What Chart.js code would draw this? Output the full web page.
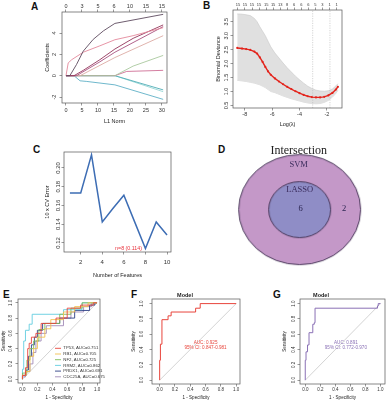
<!DOCTYPE html>
<html><head><meta charset="utf-8">
<script src="https://cdn.jsdelivr.net/npm/chart.js@4.4.1/dist/chart.umd.min.js"></script>
<style>
html,body{margin:0;padding:0;background:#fff}
body{width:387px;height:401px;overflow:hidden;position:relative}
canvas{position:absolute}
.lab{position:absolute;font:bold 10px/10px "Liberation Sans",Arial,sans-serif;color:#111}
</style></head><body>
<div class="lab" style="left:31px;top:2px">A</div>
<div class="lab" style="left:203px;top:1px">B</div>
<div class="lab" style="left:33px;top:145px">C</div>
<div class="lab" style="left:218px;top:145px">D</div>
<div class="lab" style="left:3px;top:290px">E</div>
<div class="lab" style="left:131px;top:290px">F</div>
<div class="lab" style="left:273px;top:290px">G</div>
<canvas id="cA" width="145" height="128" style="left:30px;top:0px"></canvas>
<canvas id="cB" width="155" height="130" style="left:195px;top:0px"></canvas>
<canvas id="cC" width="155" height="140" style="left:25px;top:140px"></canvas>
<canvas id="cD" width="187" height="140" style="left:200px;top:135px"></canvas>
<canvas id="cE" width="108" height="116" style="left:0px;top:285px"></canvas>
<canvas id="cF" width="118" height="116" style="left:130px;top:285px"></canvas>
<canvas id="cG" width="130" height="116" style="left:257px;top:285px"></canvas>
<script>
// ================= DATA =================
// Panel A: LASSO coefficient paths
const aL1Ticks = [0, 5, 10, 15, 20, 25, 30];
const aDfLabels = ["0", "3", "5", "6", "10", "15", "15"];
const aCoefTicks = [-2, 0, 2, 4];
const pathGene1 = [[0,0],[1.2,0],[3.3,1.05],[5.4,2.3],[8.5,3.4],[11.7,4.2],[15.3,4.9],[30.4,5.75]];
const pathGene2 = [[0,0],[0.7,1.2],[1.8,1.5],[5.4,2.2],[10.6,2.8],[15.3,3.37],[21,3.75],[30.4,4.5]];
const pathGene3 = [[0,0],[2.5,0],[5.4,0.5],[10.6,1.5],[15.3,2.5],[21,3.5],[30.4,4.76]];
const pathGene4 = [[0,0],[3.3,0],[10.6,1.3],[15.3,2.2],[30.4,4.6]];
const pathGene5 = [[0,0],[4.4,0],[15.3,1.7],[30.4,3.75]];
const pathGene6 = [[0,0],[15.3,0],[21,0.9],[30.4,1.9]];
const pathGene7 = [[0,0],[15.3,0],[19,0.4],[30.4,0.5]];
const pathGene8 = [[0,0],[15.3,0],[30.4,-1.33]];
const pathGene9 = [[0,0],[15.3,0],[30.4,-1.5]];
const pathGene10 = [[0,0],[2.5,0],[4.4,-0.48],[6.5,-0.54],[15.3,-0.86],[30.4,-2.22]];

// Panel B: cross-validation deviance
const bLogLambda = [-8.55,-8.2,-7.9,-7.6,-7.3,-7.1,-6.9,-6.7,-6.5,-6.3,-6.1,-5.8,-5.5,-5.2,-4.9,-4.6,-4.3,-4.0,-3.7,-3.4,-3.1,-2.8,-2.5,-2.2,-1.9,-1.6,-1.35,-1.2];
const bMeanDev  = [2.56,2.54,2.52,2.49,2.43,2.36,2.22,2.06,1.88,1.72,1.60,1.47,1.36,1.26,1.17,1.09,1.01,0.94,0.88,0.83,0.80,0.79,0.79,0.81,0.86,0.95,1.07,1.17];
const bUpperDev = [3.78,3.77,3.75,3.72,3.62,3.50,3.32,3.16,3.00,2.80,2.60,2.38,2.20,2.02,1.85,1.70,1.55,1.42,1.30,1.19,1.11,1.05,1.02,1.01,1.03,1.09,1.20,1.28];
const bLowerDev = [1.40,1.38,1.36,1.33,1.30,1.27,1.24,1.19,1.14,1.07,1.00,0.96,0.90,0.84,0.79,0.74,0.70,0.66,0.62,0.59,0.57,0.56,0.57,0.61,0.68,0.80,0.93,1.04];
const bLambdaMarks = [-3.04, -1.78];
const bXTicks = [-8, -6, -4, -2];
const bYTicks = [0.5, 1.0, 1.5, 2.0, 2.5, 3.0, 3.5];
const bTopPos = [-8.5,-7.99,-7.47,-6.96,-6.44,-5.93,-5.41,-4.9,-4.39,-3.87,-3.36,-2.84,-2.33,-1.81,-1.3];
const bTopLabels = ["15","15","15","15","15","15","13","8","6","6","6","5","3","1","1"];

// Panel C: SVM-RFE CV error
const cFeatures = [1,2,3,4,5,6,7,8,9,10];
const cCvError = [0.1733,0.1733,0.2139,0.1424,0.157,0.171,0.1425,0.114,0.1424,0.1285];
const cXTicks = [2,4,6,8,10];
const cYTicks = [0.12,0.14,0.16,0.18,0.20];
const cBestLabel = "n=8 (0.114)";

// Panel D: Venn
const dTitle = "Intersection";
const dSets = ["SVM", "LASSO"];
const dCounts = [2, 6]; // SVM only, shared

// Panel E: single-gene ROC
const eGenes = ["TP53","RB1","NF2","RRM2","PRDX1","CDC25A"];
const eAucs = ["0.751","0.705","0.725","0.862","0.691","0.675"];
const rocTP53 = [[0,0],[0,0.05],[0.04,0.05],[0.04,0.15],[0.07,0.15],[0.07,0.4],[0.09,0.4],[0.09,0.47],[0.12,0.47],[0.12,0.55],[0.18,0.55],[0.18,0.6],[0.25,0.6],[0.25,0.73],[0.45,0.73],[0.45,0.8],[0.6,0.8],[0.6,0.93],[0.78,0.93],[0.78,0.97],[0.95,0.97],[0.95,1],[1,1]];
const rocRB1 = [[0,0],[0,0.05],[0.05,0.05],[0.05,0.1],[0.1,0.1],[0.1,0.3],[0.15,0.3],[0.15,0.4],[0.2,0.4],[0.2,0.55],[0.3,0.55],[0.3,0.66],[0.38,0.66],[0.38,0.78],[0.55,0.78],[0.55,0.88],[0.7,0.88],[0.7,0.95],[0.88,0.95],[0.88,1],[1,1]];
const rocNF2 = [[0,0],[0,0.08],[0.06,0.08],[0.06,0.25],[0.1,0.25],[0.1,0.4],[0.15,0.4],[0.15,0.5],[0.22,0.5],[0.22,0.65],[0.3,0.65],[0.3,0.73],[0.5,0.73],[0.5,0.85],[0.65,0.85],[0.65,0.93],[0.8,0.93],[0.8,1],[1,1]];
const rocRRM2 = [[0,0],[0,0.13],[0.01,0.13],[0.01,0.35],[0.02,0.35],[0.02,0.5],[0.04,0.5],[0.04,0.64],[0.09,0.64],[0.09,0.72],[0.13,0.72],[0.13,0.85],[0.55,0.85],[0.55,0.91],[0.8,0.91],[0.8,1],[1,1]];
const rocPRDX1 = [[0,0],[0,0.05],[0.05,0.05],[0.05,0.12],[0.08,0.12],[0.08,0.3],[0.12,0.3],[0.12,0.45],[0.16,0.45],[0.16,0.55],[0.2,0.55],[0.2,0.64],[0.27,0.64],[0.27,0.73],[0.5,0.73],[0.5,0.8],[0.7,0.8],[0.7,0.9],[0.9,0.9],[0.9,0.97],[0.97,0.97],[0.97,1],[1,1]];
const rocCDC25A = [[0,0],[0,0.03],[0.04,0.03],[0.04,0.1],[0.1,0.1],[0.1,0.2],[0.14,0.2],[0.14,0.35],[0.18,0.35],[0.18,0.5],[0.25,0.5],[0.25,0.6],[0.32,0.6],[0.32,0.7],[0.55,0.7],[0.55,0.8],[0.65,0.8],[0.65,0.88],[0.82,0.88],[0.82,0.95],[0.93,0.95],[0.93,1],[1,1]];
const chanceLine = [[0,0],[1,1]];
const rocTicks = [0,0.2,0.4,0.6,0.8,1.0];

// Panels F, G: model ROC
const rocModelF = [[0,0],[0,0.26],[0.01,0.26],[0.01,0.47],[0.03,0.47],[0.03,0.79],[0.11,0.79],[0.11,0.84],[0.15,0.84],[0.15,0.89],[0.47,0.89],[0.47,0.94],[0.53,0.94],[0.53,1],[1,1]];
const aucF = "0.925", ciF = "0.847-0.981";
const rocModelG = [[0,0],[0,0.26],[0.01,0.26],[0.01,0.37],[0.03,0.37],[0.03,0.46],[0.05,0.46],[0.05,0.62],[0.1,0.62],[0.1,0.73],[0.12,0.73],[0.12,0.75],[0.13,0.75],[0.13,0.94],[0.96,0.94],[0.96,0.97],[0.97,0.97],[0.97,1],[1,1]];
const aucG = "0.891", ciG = "0.772-0.970";

// ================= STYLE / HELPERS =================
const FONT = '"Liberation Sans", Arial, sans-serif';
Chart.defaults.font.family = FONT;
Chart.defaults.color = '#333';

function lineDS(points, color, w, extra){
  return Object.assign({data: points.map(p=>({x:p[0], y:p[1]})), showLine:true, borderColor:color,
    backgroundColor:color, borderWidth:w, pointRadius:0, tension:0, fill:false}, extra||{});
}
function axis(o){
  const isX = o.axis === 'x';
  return {
    type:'linear', axis:o.axis, position:o.position, min:o.min, max:o.max,
    afterBuildTicks: s => { s.ticks = o.ticks.map(v=>({value:v})); },
    afterFit: s => { if(isX){ s.height=o.size; s.paddingLeft=0; s.paddingRight=0; } else { s.width=o.size; s.paddingTop=0; s.paddingBottom=0; } },
    grid:{display:true, drawOnChartArea:false, drawTicks:true, tickLength:2.5, tickWidth:0.6, color:'#555', lineWidth:0.6},
    border:{display:false},
    ticks:{font:{size:o.fs||5.5}, color:'#333', padding:o.pad, autoSkip:false,
      minRotation:isX?0:90, maxRotation:isX?0:90, crossAlign:isX?'near':'center',
      callback:(v,i)=> o.labels ? o.labels[i] : o.fmt(v)},
    title: o.title ? {display:true, text:o.title, font:{size:o.tfs||5.5}, color:'#222',
      padding: isX ? {top:0,bottom:o.tpad} : {top:o.tpad,bottom:0}} : {display:false}
  };
}
function opts(padding, scales, extraPlugins){
  return {responsive:false, animation:false, devicePixelRatio:1, events:[],
    layout:{padding}, scales,
    plugins:Object.assign({legend:{display:false}, tooltip:{enabled:false}}, extraPlugins||{})};
}
const boxPlugin = {id:'rbox', afterDatasetsDraw(chart){
  const a=chart.chartArea, c=chart.ctx; c.save(); c.strokeStyle='#555'; c.lineWidth=0.7;
  c.strokeRect(a.left, a.top, a.right-a.left, a.bottom-a.top); c.restore(); }};
function textPlugin(items){ return {id:'txt', afterDatasetsDraw(chart){
  const c=chart.ctx, xs=chart.scales.x, ys=chart.scales.y; c.save();
  items.forEach(t=>{ c.font=t.font; c.fillStyle=t.color; c.textAlign=t.align||'center'; c.textBaseline='middle';
    c.fillText(t.text, xs.getPixelForValue(t.x)+(t.dx||0), ys.getPixelForValue(t.y)); });
  c.restore(); }}; }
const f1 = v => v.toFixed(1), f2 = v => v.toFixed(2), fs = v => String(v);

// ================= PANEL A =================
const aPaths = [pathGene1,pathGene2,pathGene3,pathGene4,pathGene5,pathGene6,pathGene7,pathGene8,pathGene9,pathGene10];
const aColors = ['#5d4b5f','#e4899c','#93345a','#a8507e','#dcaaa4','#a9c89e','#cf6f96','#4fadb5','#9ad8d8','#5fb0c6'];
new Chart(document.getElementById('cA'), {type:'scatter',
  data:{datasets:aPaths.map((p,i)=>lineDS(p, aColors[i], 0.9))},
  options:opts({left:0,right:8,top:0,bottom:0},{
    x: axis({axis:'x',position:'bottom',min:-1.25,max:31.6,ticks:aL1Ticks,size:25,pad:1.2,fmt:fs,title:'L1 Norm',tpad:3.7}),
    x2: axis({axis:'x',position:'top',min:-1.25,max:31.6,ticks:aL1Ticks,labels:aDfLabels,size:12,pad:0.2}),
    y: axis({axis:'y',position:'left',min:-2.56,max:5.97,ticks:aCoefTicks,size:32,pad:3,fmt:fs,title:'Coefficients',tpad:13.7})
  }), plugins:[boxPlugin]});

// ================= PANEL B =================
const bYmin = 0.41, bYmax = 3.92;
new Chart(document.getElementById('cB'), {type:'scatter',
  data:{datasets:[
    lineDS(bLogLambda.map((x,i)=>[x,bMeanDev[i]]), '#e3241c', 1.4, {pointRadius:1.1, pointBorderWidth:0}),
    ...bLambdaMarks.map(v=>lineDS([[v,bYmin],[v,bYmax]], '#b8b8b8', 0.6, {borderDash:[1.2,1.2]})),
    lineDS(bLogLambda.map((x,i)=>[x,bUpperDev[i]]), '#c8c8c8', 0.6, {fill:'+1', backgroundColor:'#e0e0e0'}),
    lineDS(bLogLambda.map((x,i)=>[x,bLowerDev[i]]), '#c8c8c8', 0.6)
  ]},
  options:opts({left:0,right:8,top:0,bottom:0},{
    x: axis({axis:'x',position:'bottom',min:-8.86,max:-0.9,ticks:bXTicks,size:22,pad:0.9,fmt:fs,title:'Log(\u03bb)',tpad:2.7}),
    x2: axis({axis:'x',position:'top',min:-8.86,max:-0.9,ticks:bTopPos,labels:bTopLabels,size:10,pad:0.4,fs:4}),
    y: axis({axis:'y',position:'left',min:bYmin,max:bYmax,ticks:bYTicks,size:38,pad:0.3,fmt:f1,title:'Binomial Deviance',tpad:20})
  }), plugins:[boxPlugin]});

// ================= PANEL C =================
new Chart(document.getElementById('cC'), {type:'scatter',
  data:{datasets:[lineDS(cFeatures.map((x,i)=>[x,cCvError[i]]), '#3d6db4', 1.5)]},
  options:opts({left:0,right:9,top:12,bottom:0},{
    x: axis({axis:'x',position:'bottom',min:0.45,max:10.37,ticks:cXTicks,size:28,pad:4.6,fmt:fs,title:'Number of Features',tpad:1.7,fs:6}),
    y: axis({axis:'y',position:'left',min:0.1104,max:0.217,ticks:cYTicks,size:39,pad:-2.3,fmt:f2,title:'10 x CV Error',tpad:18.7,fs:6})
  }), plugins:[boxPlugin, textPlugin([{text:cBestLabel, x:cFeatures[7], y:cCvError[7], dx:-3.5, align:'right', color:'#e8323c', font:'5.3px '+FONT}])]});

// ================= PANEL D =================
function ellipseImg(rx, ry, fill, stroke, lw){
  const c=document.createElement('canvas'); c.width=Math.ceil(2*rx+lw+2); c.height=Math.ceil(2*ry+lw+2);
  const g=c.getContext('2d'); g.beginPath(); g.ellipse(c.width/2,c.height/2,rx,ry,0,0,2*Math.PI);
  g.fillStyle=fill; g.fill(); g.lineWidth=lw; g.strokeStyle=stroke; g.stroke(); return c;
}
const dOuter = ellipseImg(61, 55, '#c498c8', '#3b2d4d', 0.9);
const dInner = ellipseImg(31, 28, '#8f8dc6', '#3b2d4d', 0.9);
const serif = '"Liberation Serif", "DejaVu Serif", serif';
new Chart(document.getElementById('cD'), {type:'scatter',
  data:{datasets:[{data:dSets.map(()=>({x:0,y:0})), pointStyle:[dOuter, dInner], pointRadius:1}]},
  options:opts(0,{x:{display:false,min:-1,max:0.87}, y:{display:false,min:-0.65,max:0.75}}),
  plugins:[textPlugin([
    {text:dTitle, x:-0.01, y:0.63, color:'#222', font:'12px '+serif},
    {text:dSets[0], x:-0.01, y:0.48, color:'#3a2c5c', font:'8.5px '+serif},
    {text:dSets[1], x:0, y:0.21, color:'#3a2c5c', font:'8.5px '+serif},
    {text:String(dCounts[1]), x:0.01, y:0.01, color:'#2a2450', font:'8.5px '+serif},
    {text:String(dCounts[0]), x:0.47, y:0.01, color:'#2a2450', font:'8.5px '+serif}
  ])]});

// ================= PANEL E =================
const eCurves = [rocTP53, rocRB1, rocNF2, rocRRM2, rocPRDX1, rocCDC25A];
const eColors = ['#e8453c','#f2c14e','#7dbb5a','#62cde0','#2e3f86','#a08ab8'];
const legendPlugin = {id:'rleg', afterDatasetsDraw(chart){
  const c=chart.ctx; c.save(); c.font='4.3px '+FONT; c.textBaseline='middle'; c.textAlign='left';
  eGenes.forEach((g,i)=>{ const y=63.3+i*5.7; c.strokeStyle=eColors[i]; c.lineWidth=0.9; c.beginPath();
    c.moveTo(55,y); c.lineTo(61,y); c.stroke(); c.fillStyle='#333'; c.fillText(g+', AUC='+eAucs[i], 63.3, y); });
  c.restore(); }};
function rocScales(xmin,xmax,ymin,ymax,ysize,ypad,ytpad,xpad){
  return {
    x: axis({axis:'x',position:'bottom',min:xmin,max:xmax,ticks:rocTicks,size:ysize[1],pad:xpad,fmt:f1,fs:4.5,title:'1 - Specificity',tfs:4.5,tpad:0.6}),
    y: axis({axis:'y',position:'left',min:ymin,max:ymax,ticks:rocTicks,size:ysize[0],pad:ypad,fmt:f1,fs:4.5,title:'Sensitivity',tfs:4.5,tpad:ytpad})
  };
}
new Chart(document.getElementById('cE'), {type:'scatter',
  data:{datasets:[...eCurves.map((p,i)=>lineDS(p, eColors[i], 0.9)), lineDS(chanceLine, '#c8c8c8', 0.8)]},
  options:opts({left:0,right:8,top:14,bottom:0}, rocScales(-0.06,1.04,-0.05,1.05,[18,18],1.7,1.3,1.5)),
  plugins:[boxPlugin, legendPlugin]});

// ================= PANEL F =================
const titleModel = {display:true, text:'Model', font:{size:5.5, weight:'bold'}, color:'#222', padding:{top:7,bottom:0.4}};
new Chart(document.getElementById('cF'), {type:'scatter',
  data:{datasets:[lineDS(rocModelF, '#e8453c', 1), lineDS(chanceLine, '#c8c8c8', 0.8)]},
  options:opts({left:0,right:8,top:0,bottom:0}, rocScales(-0.1,1.05,-0.05,1.06,[22,17],4.4,1.3,0.8), {title:titleModel}),
  plugins:[boxPlugin, textPlugin([
    {text:'AUC: '+aucF, x:0.6, y:0.483, color:'#e8453c', font:'4.6px '+FONT},
    {text:'95% CI: '+ciF, x:0.6, y:0.425, color:'#e8453c', font:'4.6px '+FONT}])]});

// ================= PANEL G =================
new Chart(document.getElementById('cG'), {type:'scatter',
  data:{datasets:[lineDS(rocModelG, '#8a70b5', 1), lineDS(chanceLine, '#c8c8c8', 0.8)]},
  options:opts({left:0,right:2,top:0,bottom:0}, rocScales(-0.07,1.06,-0.05,1.06,[43,17],0.7,24.6,0.8), {title:titleModel}),
  plugins:[boxPlugin, textPlugin([
    {text:'AUC: '+aucG, x:0.54, y:0.483, color:'#8a70b5', font:'4.6px '+FONT},
    {text:'95% CI: '+ciG, x:0.54, y:0.425, color:'#8a70b5', font:'4.6px '+FONT}])]});
</script>
</body></html>
